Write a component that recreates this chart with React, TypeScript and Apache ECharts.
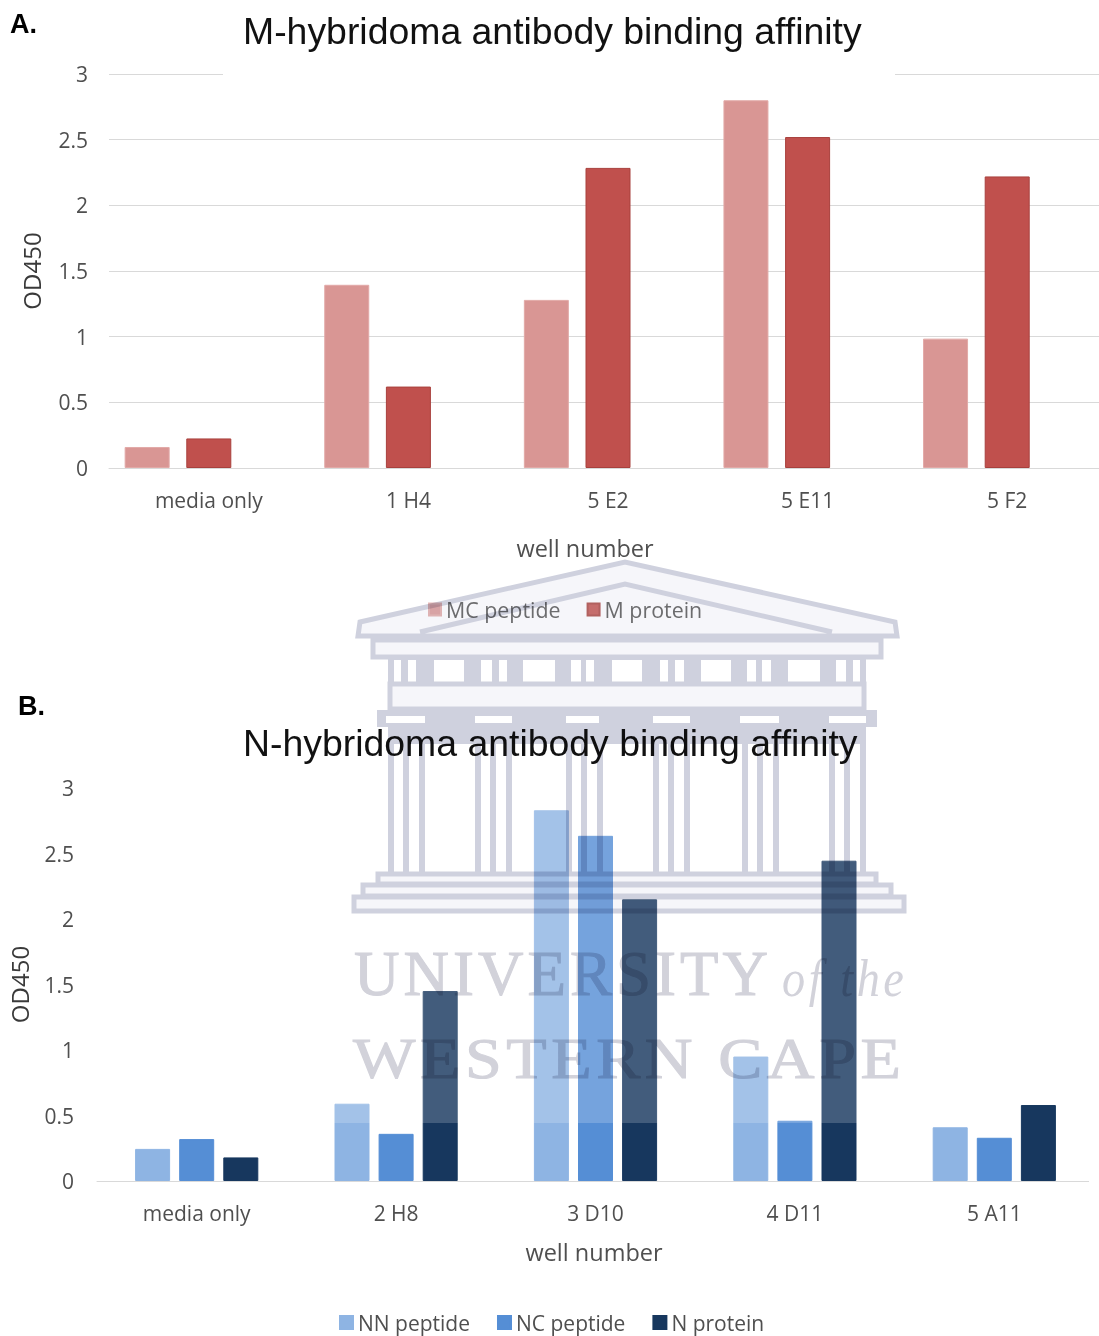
import React, { useEffect, useRef } from "react";
import * as echarts from "echarts";

// Well labels per panel
const mWells = ["media only", "1 H4", "5 E2", "5 E11", "5 F2"];
const nWells = ["media only", "2 H8", "3 D10", "4 D11", "5 A11"];

// OD450 readings, panel A
const mcPeptide = [0.16, 1.395, 1.28, 2.8, 0.985];
const mProtein = [0.225, 0.62, 2.285, 2.52, 2.22];

// OD450 readings, panel B
const nnPeptide = [0.245, 0.59, 2.83, 0.95, 0.41];
const ncPeptide = [0.32, 0.36, 2.635, 0.46, 0.33];
const nProtein = [0.18, 1.45, 2.15, 2.445, 0.58];

const FONT = "'Open Sans', sans-serif";
const ARIAL = "'Liberation Sans', Arial, sans-serif";
const SERIF = "'Liberation Serif', serif";
const TEXT = "#4f4f4f";

const MC_COLOR = "#D99694";
const M_COLOR = "#C0504D";
const NN_COLOR = "#8EB4E3";
const NC_COLOR = "#558ED5";
const N_COLOR = "#17375E";

// Crest outlines: clockwise boxes fill, anticlockwise boxes cut holes
const box = (x: number, y: number, w: number, h: number) =>
  `M${x} ${y}L${x + w} ${y}L${x + w} ${y + h}L${x} ${y + h}Z`;
const hole = (x: number, y: number, w: number, h: number) =>
  `M${x} ${y}L${x} ${y + h}L${x + w} ${y + h}L${x + w} ${y}Z`;

const friezeHoles = [
  [394, 7], [408, 8], [434, 30], [481, 11], [499, 8], [523, 32], [571, 10], [586, 8],
  [612, 30], [660, 8], [675, 9], [701, 30], [747, 9], [762, 9], [788, 32], [836, 10], [853, 7],
];
const corniceSlots = [
  [386, 39], [475, 37], [566, 33], [653, 37], [740, 39], [829, 37],
];
const columnGroups = [388, 475, 566, 653, 742, 829];

const crestFill =
  box(388, 657, 478, 26) +
  friezeHoles.map(([x, w]) => hole(x, 660, w, 22)).join("") +
  box(377, 710, 500, 17) +
  corniceSlots.map(([x, w]) => hole(x, 716, w, 7)).join("") +
  box(388, 727, 478, 17) +
  columnGroups
    .map((x) => box(x, 744, 6, 129) + box(x + 15, 744, 6, 129) + box(x + 31, 744, 6, 129))
    .join("");

const crestLines =
  "M360 622L625 562L895 622L897 636L358 636Z" +
  "M420 632L625 584L832 632" +
  box(373, 640, 508, 17) +
  box(390, 684, 474, 25) +
  box(378, 874, 498, 10) +
  box(363, 885, 528, 11) +
  box(354, 897, 550, 14);

echarts.graphic.registerShape("crestFill", echarts.graphic.extendPath(crestFill, {}));
echarts.graphic.registerShape("crestLines", echarts.graphic.extendPath(crestLines, {}));

const CREST_INK = "#CFD1DE";
const CREST_PALE = "#F6F6FA";
const LETTER_INK = "#D2D2DA";

const axisLabel = { color: TEXT, fontFamily: FONT, fontSize: 21 };

const yAxisFor = (gridIndex: number, splitLine: boolean) => ({
  type: "value" as const,
  gridIndex,
  min: 0,
  max: 3,
  interval: 0.5,
  name: "OD450",
  nameLocation: "middle" as const,
  nameGap: 66,
  nameTextStyle: { color: "#3a3a3a", fontFamily: FONT, fontSize: 24 },
  axisLine: { show: false },
  axisTick: { show: false },
  axisLabel: { ...axisLabel, margin: gridIndex === 0 ? 21 : 23, padding: [0, 0, 2, 0] },
  splitLine: { show: splitLine, lineStyle: { color: "#D9D9D9", width: 1 } },
});

const xAxisFor = (gridIndex: number, data: string[]) => ({
  type: "category" as const,
  gridIndex,
  data,
  axisLine: { lineStyle: { color: "#D9D9D9", width: 1 } },
  axisTick: { show: false },
  axisLabel: { ...axisLabel, margin: 21 },
});

const barFor = (
  name: string,
  data: number[],
  axisIndex: number,
  color: string,
  barWidth: number,
  barGap: string,
  borderColor?: string,
) => ({
  type: "bar" as const,
  name,
  data,
  xAxisIndex: axisIndex,
  yAxisIndex: axisIndex,
  barWidth,
  barGap,
  itemStyle: { color, borderColor: borderColor ?? color, borderWidth: 1 },
});

const legendFor = (
  names: string[],
  left: number,
  top: number,
  size: number,
  itemGap: number,
  fontSize: number,
) => ({
  data: names,
  left,
  top,
  padding: 0,
  orient: "horizontal" as const,
  itemWidth: size,
  itemHeight: size,
  itemGap,
  icon: "rect",
  textStyle: { color: TEXT, fontFamily: FONT, fontSize },
});

const titleFor = (text: string, left: number, top: number) => ({
  text,
  left,
  top,
  padding: 0,
  textStyle: { color: "#111111", fontFamily: ARIAL, fontSize: 37.4, fontWeight: "normal" as const },
});

const panelLetter = (text: string, x: number, y: number) => ({
  type: "text" as const,
  x,
  y,
  z: 10,
  style: { text, fill: "#000000", font: `bold 27px ${ARIAL}` },
});

const axisTitle = (text: string, x: number, y: number) => ({
  type: "text" as const,
  x,
  y,
  z: 10,
  style: { text, fill: TEXT, font: `23.5px ${FONT}`, textAlign: "center" as const, textVerticalAlign: "middle" as const },
});

export default function App() {
  const ref = useRef<HTMLDivElement>(null);
  const crestRef = useRef<HTMLDivElement>(null);

  useEffect(() => {
    const chart = echarts.init(ref.current!, undefined, { renderer: "svg" });
    chart.setOption({
      animation: false,
      backgroundColor: "#ffffff",
      title: [
        titleFor("M-hybridoma antibody binding affinity", 243, 12),
        titleFor("N-hybridoma antibody binding affinity", 243, 724),
      ],
      grid: [
        { left: 109, top: 74, width: 998, height: 394, outerBoundsMode: "none" },
        { left: 97, top: 788, width: 997, height: 393, outerBoundsMode: "none" },
      ],
      xAxis: [xAxisFor(0, mWells), xAxisFor(1, nWells)],
      yAxis: [yAxisFor(0, true), yAxisFor(1, false)],
      legend: [
        legendFor(["MC peptide", "M protein"], 428, 599, 12, 26, 21.4),
        legendFor(["NN peptide", "NC peptide", "N protein"], 339, 1312, 13, 27, 21),
      ],
      series: [
        barFor("MC peptide", mcPeptide, 0, MC_COLOR, 45, "37%", "#E2A9A7"),
        barFor("M protein", mProtein, 0, M_COLOR, 45, "37%", "#A8403D"),
        barFor("", [], 0, M_COLOR, 45, "37%"),
        barFor("NN peptide", nnPeptide, 1, NN_COLOR, 35, "26%"),
        barFor("NC peptide", ncPeptide, 1, NC_COLOR, 35, "26%"),
        barFor("N protein", nProtein, 1, N_COLOR, 35, "26%"),
      ],
      graphic: [
        // Break in the top gridline behind the title
        { type: "rect", z: 1, shape: { x: 223, y: 62, width: 672, height: 24 }, style: { fill: "#ffffff" } },
        // The panel B baseline stops short of the last band's edge
        { type: "rect", z: 1, shape: { x: 1089, y: 1176, width: 20, height: 10 }, style: { fill: "#ffffff" } },
        // Pale wash over the upper part of the panel B bars
        { type: "rect", z: 5, shape: { x: 325, y: 540, width: 600, height: 583 }, style: { fill: "rgba(255,255,255,0.19)" } },
        panelLetter("A.", 10, 10),
        panelLetter("B.", 18, 692),
        axisTitle("well number", 585, 548),
        axisTitle("well number", 594, 1252),
      ],
    });

    // Crest layer sits above the chart and multiplies into whatever is under it
    const crest = echarts.init(crestRef.current!, undefined, { renderer: "svg" });
    crest.setOption({
      animation: false,
      graphic: [
        { type: "crestLines", style: { fill: CREST_PALE, stroke: CREST_INK, lineWidth: 5 } },
        { type: "crestFill", style: { fill: CREST_INK } },
        { type: "text", x: 354, y: 1005, style: { text: "UNIVERSITY", fill: LETTER_INK, stroke: LETTER_INK, lineWidth: 1, font: `63px ${SERIF}`, textVerticalAlign: "bottom" } },
        { type: "text", x: 782, y: 1005, scaleX: 0.89, style: { text: "of the", fill: LETTER_INK, font: `italic 52px ${SERIF}`, textVerticalAlign: "bottom" } },
        { type: "text", x: 353, y: 1087, scaleX: 1.14, style: { text: "WESTERN CAPE", fill: LETTER_INK, stroke: LETTER_INK, lineWidth: 1, font: `58px ${SERIF}`, textVerticalAlign: "bottom" } },
      ],
    });

    return () => {
      chart.dispose();
      crest.dispose();
    };
  }, []);

  return (
    <div style={{ position: "absolute", left: 0, top: 0, width: 1099, height: 1336, overflow: "hidden" }}>
      <div ref={ref} style={{ position: "absolute", left: 0, top: 0, width: 1120, height: 1336 }} />
      <div
        ref={crestRef}
        style={{
          position: "absolute",
          left: 0,
          top: 0,
          width: 1099,
          height: 1336,
          mixBlendMode: "multiply",
          letterSpacing: "4px",
          pointerEvents: "none",
        }}
      />
    </div>
  );
}
